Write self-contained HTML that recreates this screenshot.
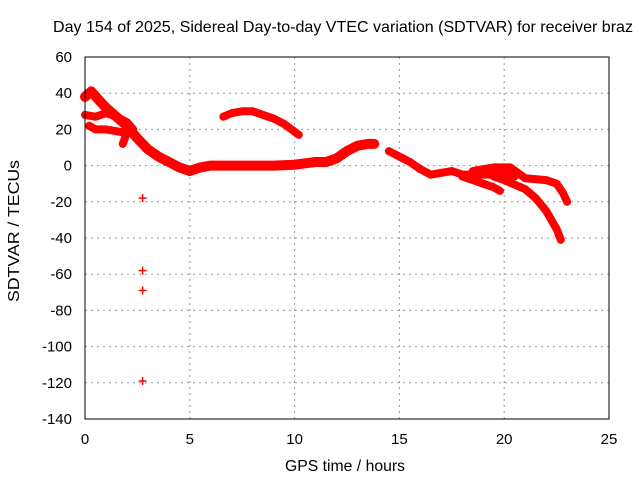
<!DOCTYPE html>
<html><head><meta charset="utf-8"><style>
body{margin:0;background:#fff}
svg text{font-family:"Liberation Sans",sans-serif;font-size:15px;fill:#000}
</style></head><body>
<svg id="c" width="640" height="480" xmlns="http://www.w3.org/2000/svg">
<text x="53" y="32" textLength="580" lengthAdjust="spacingAndGlyphs" style="font-size:16px">Day 154 of 2025, Sidereal Day-to-day VTEC variation (SDTVAR) for receiver braz</text>
<text x="285" y="471" textLength="120" lengthAdjust="spacingAndGlyphs" style="font-size:16px">GPS time / hours</text>
<text transform="translate(19,302) rotate(-90)" textLength="142" lengthAdjust="spacingAndGlyphs" style="font-size:16px">SDTVAR / TECUs</text>
<g id="grid"></g>
<g id="ticks"></g>
<g id="marks"></g>
<rect x="85" y="57" width="524" height="362" fill="none" stroke="#000" stroke-width="1"/>
</svg>
<script>
const xTicks=[0,5,10,15,20,25];
const yTicks=[60,40,20,0,-20,-40,-60,-80,-100,-120,-140];
const mainTrace=[[0,38],[0.3,41],[0.6,37],[1,32],[1.5,27],[2,22],[2.5,15],[3,9],[3.5,5],[4,2],[4.5,-1],[5,-3],[5.5,-1],[6,0],[7,0],[8,0],[9,0],[10,0.5],[11,2],[11.5,2],[12,4],[12.5,8],[13,11],[13.5,12],[13.8,12]];
const eveningTrace=[[14.5,8],[15,5],[15.5,2],[16,-2],[16.5,-5],[17,-4],[17.5,-3],[18,-5],[19,-5],[20,-5],[20.5,-6]];
const upperBranch=[[18.5,-3],[19,-2],[19.5,-1],[20.3,-1],[21,-7],[22,-8],[22.5,-10],[22.8,-15],[23,-20]];
const lowerBranch=[[19.5,-6],[20,-8],[21,-13],[21.5,-18],[22,-25],[22.5,-35],[22.7,-41]];
const midBranch=[[18,-6],[18.5,-8],[19.5,-12],[19.8,-14]];
const arcTrace=[[6.6,27],[7,29],[7.5,30],[8,30],[8.5,28],[9,26],[9.5,23],[10.2,17]];
const earlyA=[[0,28],[0.5,27],[1,29],[1.5,27],[2,24],[2.3,20]];
const earlyB=[[0.2,22],[0.5,20],[1,20],[1.5,19],[2,18],[1.8,12]];
const outliers=[[2.75,-18],[2.75,-58],[2.75,-69],[2.75,-119]];
const NS="http://www.w3.org/2000/svg";
const X=t=>85+t*524/25, Y=v=>57+(60-v)*362/200;
function mk(tag,parent,attrs){const e=document.createElementNS(NS,tag);for(const k in attrs)e.setAttribute(k,attrs[k]);parent.appendChild(e);return e;}
const grid=document.getElementById('grid'),ticks=document.getElementById('ticks'),marks=document.getElementById('marks');
xTicks.forEach(t=>{
 if(t>0&&t<25){const l=mk('line',grid,{x1:X(t),x2:X(t),y1:57,y2:419,stroke:'#999','stroke-dasharray':'2,4'});
 
 }
 const tx=mk('text',ticks,{x:X(t),y:444,'text-anchor':'middle'});tx.textContent=t;
 
 
});
yTicks.forEach(v=>{
 if(v<60&&v>-140){const l=mk('line',grid,{x1:85,x2:609,y1:Y(v),y2:Y(v),stroke:'#999','stroke-dasharray':'2,4'});
 
 }
 const tx=mk('text',ticks,{x:72,y:Y(v)+5,'text-anchor':'end'});tx.textContent=v;
 
 
});
const traces=[mainTrace,eveningTrace,upperBranch,lowerBranch,midBranch,arcTrace,earlyA,earlyB];
traces.forEach((tr,i)=>{
 const p=mk('polyline',marks,{points:tr.map(d=>X(d[0])+','+Y(d[1])).join(' '),fill:'none',stroke:'#f00','stroke-width':i===0?10:8,'stroke-linejoin':'round','stroke-linecap':'round'});
 
 
});
outliers.forEach(d=>{
 const p=mk('path',marks,{d:`M${X(d[0])-4},${Y(d[1])}h8M${X(d[0])},${Y(d[1])-4}v8`,stroke:'#f00','stroke-width':1.5});
 
 
});
</script>
</body></html>
